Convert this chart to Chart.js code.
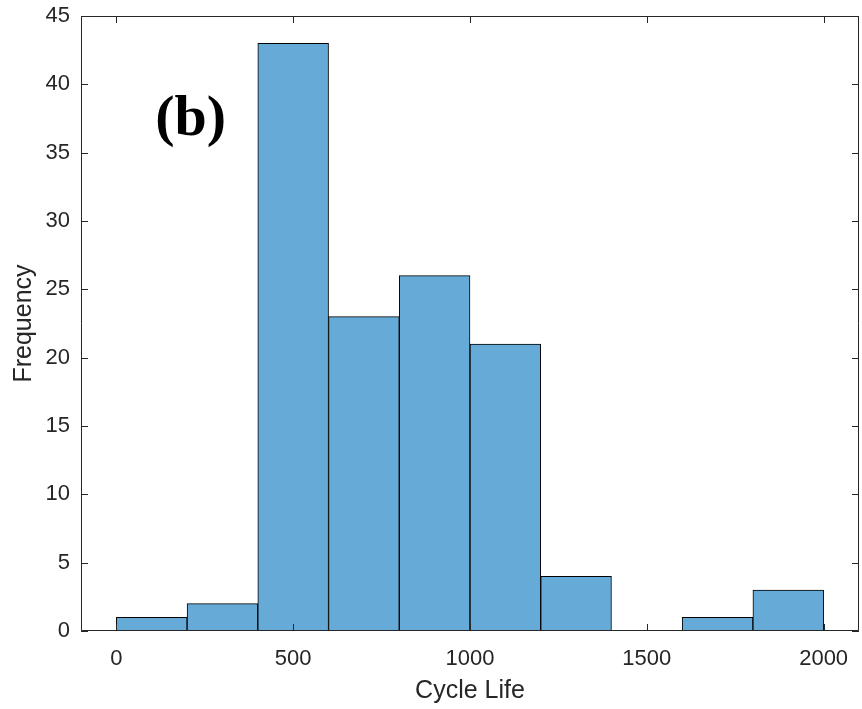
<!DOCTYPE html>
<html>
<head>
<meta charset="utf-8">
<script src="https://cdn.jsdelivr.net/npm/chart.js@4.4.0/dist/chart.umd.min.js"></script>
<style>
  html, body { margin: 0; padding: 0; background: #fff; }
  #wrap { width: 862px; height: 709px; }
</style>
</head>
<body>
<div id="wrap"><canvas id="canvas" width="862" height="709"></canvas></div>
<script>
// MARK: Data
const binCenters = [100, 300, 500, 700, 900, 1100, 1300, 1500, 1700, 1900];
const counts = [1, 2, 43, 23, 26, 21, 4, 0, 1, 3];
const xTicks = [0, 500, 1000, 1500, 2000];
const yTicks = [0, 5, 10, 15, 20, 25, 30, 35, 40, 45];
const panelLabel = '(b)';

const axisColor = '#262626';

// MARK: Box + inward ticks (MATLAB style)
const boxPlugin = {
  id: 'box',
  afterDraw(chart) {
    const { ctx, chartArea: a, scales } = chart;
    const len = 7;
    ctx.save();
    ctx.strokeStyle = axisColor;
    ctx.lineWidth = 1;
    ctx.beginPath();
    ctx.rect(a.left + 0.5, a.top + 0.5, a.right - a.left - 1, a.bottom - a.top - 1);
    xTicks.forEach(v => {
      const px = Math.round(scales.x.getPixelForValue(v)) + 0.5;
      ctx.moveTo(px, a.bottom); ctx.lineTo(px, a.bottom - len);
      ctx.moveTo(px, a.top); ctx.lineTo(px, a.top + len);
    });
    yTicks.forEach(v => {
      const py = Math.round(scales.y.getPixelForValue(v)) + 0.5;
      ctx.moveTo(a.left, py); ctx.lineTo(a.left + len, py);
      ctx.moveTo(a.right, py); ctx.lineTo(a.right - len, py);
    });
    ctx.stroke();

    // panel label
    ctx.fillStyle = '#000';
    ctx.font = 'bold 58px "Liberation Serif", "Times New Roman", serif';
    ctx.textAlign = 'center';
    ctx.textBaseline = 'middle';
    ctx.fillText(panelLabel, scales.x.getPixelForValue(210), scales.y.getPixelForValue(37.4));
    ctx.restore();
  }
};

const ctx = document.getElementById('canvas').getContext('2d');

const chart = new Chart(ctx, {
  type: 'bar',
  data: {
    datasets: [{
      data: binCenters.map((x, i) => ({ x, y: counts[i] })),
      backgroundColor: 'rgb(102,170,215)',
      borderColor: '#000',
      borderWidth: 1,
      borderSkipped: false,
      barPercentage: 1,
      categoryPercentage: 1
    }]
  },
  options: {
    responsive: false,
    animation: false,
    layout: { padding: { top: 16, right: 3, left: 0, bottom: 0 } },
    plugins: {
      legend: { display: false },
      tooltip: { enabled: false }
    },
    scales: {
      x: {
        type: 'linear',
        offset: false,
        min: -100,
        max: 2100,
        afterBuildTicks: axis => { axis.ticks = xTicks.map(value => ({ value })); },
        afterFit: axis => { axis.height = 78; axis.paddingLeft = 0; axis.paddingRight = 0; },
        grid: { display: false },
        border: { display: false },
        ticks: {
          color: axisColor,
          padding: 7,
          callback: v => String(v),
          font: { family: '"Liberation Sans", Arial, sans-serif', size: 22 }
        },
        title: {
          display: true,
          text: 'Cycle Life',
          color: axisColor,
          padding: { top: 0, bottom: 3 },
          font: { family: '"Liberation Sans", Arial, sans-serif', size: 25 }
        }
      },
      y: {
        min: 0,
        max: 45,
        afterBuildTicks: axis => { axis.ticks = yTicks.map(value => ({ value })); },
        afterFit: axis => { axis.width = 81; axis.paddingTop = 0; axis.paddingBottom = 0; },
        grid: { display: false },
        border: { display: false },
        ticks: {
          color: axisColor,
          padding: 3,
          callback: v => String(v),
          font: { family: '"Liberation Sans", Arial, sans-serif', size: 22 }
        },
        title: {
          display: true,
          text: 'Frequency',
          color: axisColor,
          padding: { top: 9, bottom: 0 },
          font: { family: '"Liberation Sans", Arial, sans-serif', size: 25 }
        }
      }
    }
  },
  plugins: [boxPlugin]
});
</script>
</body>
</html>
